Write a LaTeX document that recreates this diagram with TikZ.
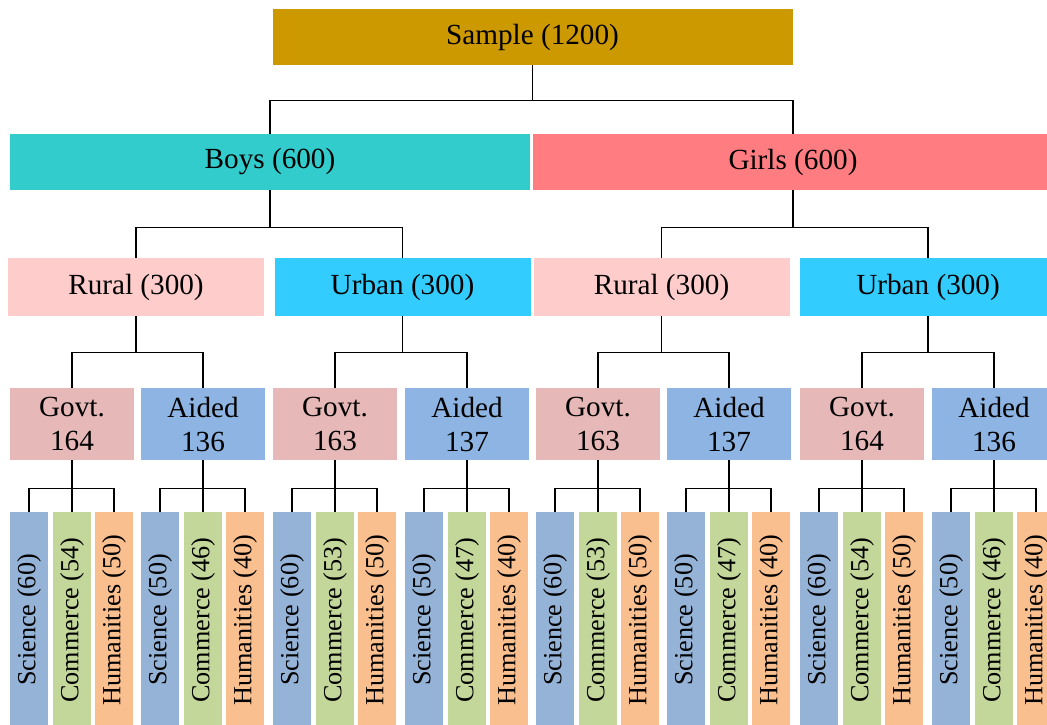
\documentclass[tikz,border=0pt]{standalone}
\usepackage{fontspec}
\setmainfont{Liberation Serif}
\usepackage{xcolor}

\definecolor{samplecol}{HTML}{CC9900}
\definecolor{boyscol}{HTML}{33CCCC}
\definecolor{girlscol}{HTML}{FF7C80}
\definecolor{ruralcol}{HTML}{FFCCCC}
\definecolor{urbancol}{HTML}{33CCFF}
\definecolor{govtcol}{HTML}{E6B8B7}
\definecolor{aidedcol}{HTML}{8DB4E2}
\definecolor{scicol}{HTML}{95B3D7}
\definecolor{comcol}{HTML}{C4D79B}
\definecolor{humcol}{HTML}{FABF8F}

\tikzset{
    box/.style={fill=#1, inner sep=0pt, text=black, align=center,
        font=\rmfamily\fontsize{14.6}{17}\selectfont},
    topbox/.style={box=#1, minimum width=260pt, minimum height=28pt},
    areabox/.style={box=#1, minimum width=128pt, minimum height=29pt},
    typebox/.style={box=#1, minimum width=62pt, minimum height=36pt},
    leafbox/.style={box=#1, minimum width=19pt, minimum height=108pt,
        font=\rmfamily\fontsize{13.1}{15}\selectfont},
    link/.style={black, line width=0.6pt},
}

\begin{document}
\begin{tikzpicture}[x=0.5pt, y=-0.5pt]
    \useasboundingbox (0,0) rectangle (1047,724);
    \clip (0,0) rectangle (1047,724);
    \def\ty{424}
    \def\ly{620}
    % top
    \node[topbox=samplecol] (sample) at (532.5,37) {Sample (1200)};
    \node[topbox=boyscol] (boys) at (270,162) {Boys (600)};
    \node[topbox=girlscol] (girls) at (793,162) {Girls (600)};
    % rural / urban
    \node[areabox=ruralcol] (brural) at (136,287) {Rural (300)};
    \node[areabox=urbancol] (burban) at (402.5,287) {Urban (300)};
    \node[areabox=ruralcol] (grural) at (661.5,287) {Rural (300)};
    \node[areabox=urbancol] (gurban) at (928,287) {Urban (300)};
    % govt / aided
    \node[typebox=govtcol] (brg) at (72,\ty) {Govt.\\164};
    \node[typebox=aidedcol] (bra) at (203,\ty) {Aided\\136};
    \node[typebox=govtcol] (bug) at (335,\ty) {Govt.\\163};
    \node[typebox=aidedcol] (bua) at (467,\ty) {Aided\\137};
    \node[typebox=govtcol] (grg) at (598,\ty) {Govt.\\163};
    \node[typebox=aidedcol] (gra) at (729,\ty) {Aided\\137};
    \node[typebox=govtcol] (gug) at (862,\ty) {Govt.\\164};
    \node[typebox=aidedcol] (gua) at (994,\ty) {Aided\\136};
    % streams
    \node[leafbox=scicol] (brgs) at (29,\ly) {\rotatebox{90}{Science (60)}};
    \node[leafbox=comcol] (brgc) at (72,\ly) {\rotatebox{90}{Commerce (54)}};
    \node[leafbox=humcol] (brgh) at (114,\ly) {\rotatebox{90}{Humanities (50)}};
    \node[leafbox=scicol] (bras) at (160,\ly) {\rotatebox{90}{Science (50)}};
    \node[leafbox=comcol] (brac) at (203,\ly) {\rotatebox{90}{Commerce (46)}};
    \node[leafbox=humcol] (brah) at (245,\ly) {\rotatebox{90}{Humanities (40)}};
    \node[leafbox=scicol] (bugs) at (292,\ly) {\rotatebox{90}{Science (60)}};
    \node[leafbox=comcol] (bugc) at (335,\ly) {\rotatebox{90}{Commerce (53)}};
    \node[leafbox=humcol] (bugh) at (377,\ly) {\rotatebox{90}{Humanities (50)}};
    \node[leafbox=scicol] (buas) at (424,\ly) {\rotatebox{90}{Science (50)}};
    \node[leafbox=comcol] (buac) at (467,\ly) {\rotatebox{90}{Commerce (47)}};
    \node[leafbox=humcol] (buah) at (509,\ly) {\rotatebox{90}{Humanities (40)}};
    \node[leafbox=scicol] (grgs) at (555,\ly) {\rotatebox{90}{Science (60)}};
    \node[leafbox=comcol] (grgc) at (598,\ly) {\rotatebox{90}{Commerce (53)}};
    \node[leafbox=humcol] (grgh) at (640,\ly) {\rotatebox{90}{Humanities (50)}};
    \node[leafbox=scicol] (gras) at (686,\ly) {\rotatebox{90}{Science (50)}};
    \node[leafbox=comcol] (grac) at (729,\ly) {\rotatebox{90}{Commerce (47)}};
    \node[leafbox=humcol] (grah) at (771,\ly) {\rotatebox{90}{Humanities (40)}};
    \node[leafbox=scicol] (gugs) at (819,\ly) {\rotatebox{90}{Science (60)}};
    \node[leafbox=comcol] (gugc) at (862,\ly) {\rotatebox{90}{Commerce (54)}};
    \node[leafbox=humcol] (gugh) at (904,\ly) {\rotatebox{90}{Humanities (50)}};
    \node[leafbox=scicol] (guas) at (951,\ly) {\rotatebox{90}{Science (50)}};
    \node[leafbox=comcol] (guac) at (994,\ly) {\rotatebox{90}{Commerce (46)}};
    \node[leafbox=humcol] (guah) at (1036,\ly) {\rotatebox{90}{Humanities (40)}};
    % links
    \draw[link] (sample.south) -- ++(0,35) -| (boys.north);
    \draw[link] (sample.south) -- ++(0,35) -| (girls.north);
    \draw[link] (boys.south) -- ++(0,37) -| (brural.north);
    \draw[link] (boys.south) -- ++(0,37) -| (burban.north);
    \draw[link] (girls.south) -- ++(0,37) -| (grural.north);
    \draw[link] (girls.south) -- ++(0,37) -| (gurban.north);
    \draw[link] (brural.south) -- ++(0,36) -| (brg.north);
    \draw[link] (brural.south) -- ++(0,36) -| (bra.north);
    \draw[link] (burban.south) -- ++(0,36) -| (bug.north);
    \draw[link] (burban.south) -- ++(0,36) -| (bua.north);
    \draw[link] (grural.south) -- ++(0,36) -| (grg.north);
    \draw[link] (grural.south) -- ++(0,36) -| (gra.north);
    \draw[link] (gurban.south) -- ++(0,36) -| (gug.north);
    \draw[link] (gurban.south) -- ++(0,36) -| (gua.north);
    \draw[link] (brg.south) -- ++(0,28) -| (brgs.north);
    \draw[link] (brg.south) -- (brgc.north);
    \draw[link] (brg.south) -- ++(0,28) -| (brgh.north);
    \draw[link] (bra.south) -- ++(0,28) -| (bras.north);
    \draw[link] (bra.south) -- (brac.north);
    \draw[link] (bra.south) -- ++(0,28) -| (brah.north);
    \draw[link] (bug.south) -- ++(0,28) -| (bugs.north);
    \draw[link] (bug.south) -- (bugc.north);
    \draw[link] (bug.south) -- ++(0,28) -| (bugh.north);
    \draw[link] (bua.south) -- ++(0,28) -| (buas.north);
    \draw[link] (bua.south) -- (buac.north);
    \draw[link] (bua.south) -- ++(0,28) -| (buah.north);
    \draw[link] (grg.south) -- ++(0,28) -| (grgs.north);
    \draw[link] (grg.south) -- (grgc.north);
    \draw[link] (grg.south) -- ++(0,28) -| (grgh.north);
    \draw[link] (gra.south) -- ++(0,28) -| (gras.north);
    \draw[link] (gra.south) -- (grac.north);
    \draw[link] (gra.south) -- ++(0,28) -| (grah.north);
    \draw[link] (gug.south) -- ++(0,28) -| (gugs.north);
    \draw[link] (gug.south) -- (gugc.north);
    \draw[link] (gug.south) -- ++(0,28) -| (gugh.north);
    \draw[link] (gua.south) -- ++(0,28) -| (guas.north);
    \draw[link] (gua.south) -- (guac.north);
    \draw[link] (gua.south) -- ++(0,28) -| (guah.north);
\end{tikzpicture}
\end{document}
